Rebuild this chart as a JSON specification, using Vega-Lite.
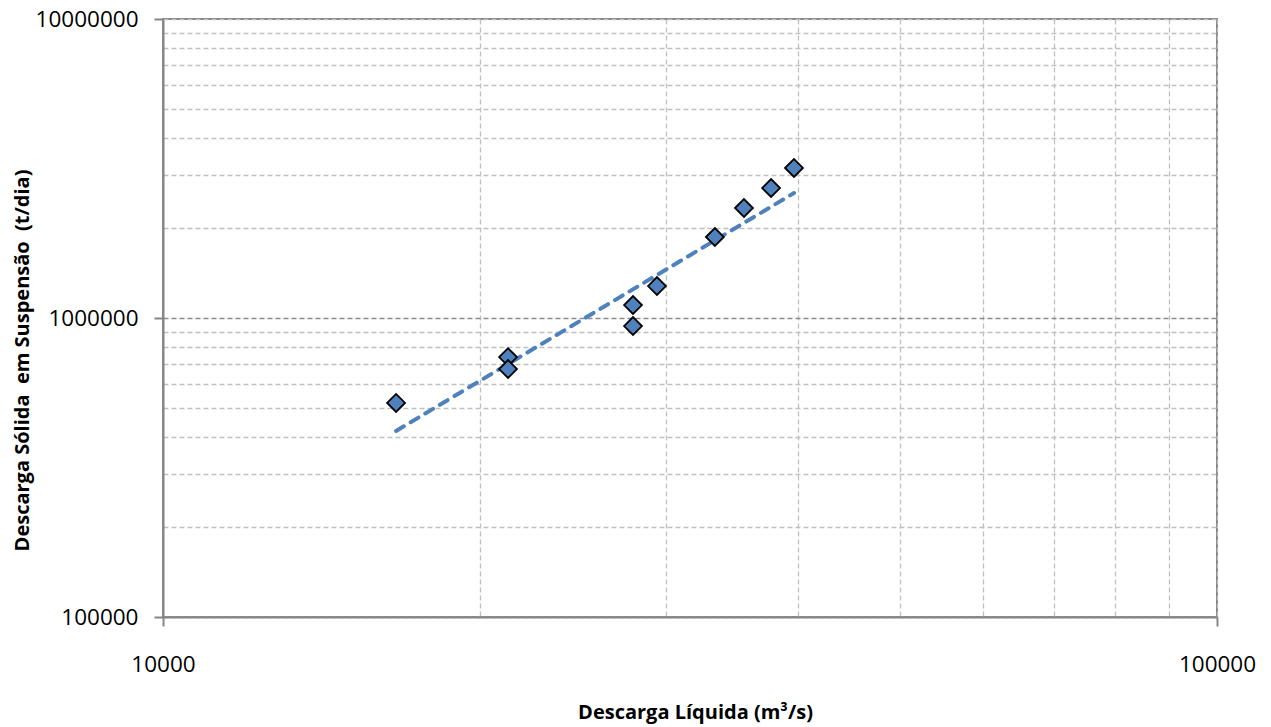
{
  "$schema": "https://vega.github.io/schema/vega-lite/v6.json",
  "width": 1054,
  "height": 598,
  "autosize": {"type": "none"},
  "padding": {"left": 163, "top": 19, "right": 54, "bottom": 110},
  "background": "white",
  "config": {
    "view": {"stroke": "#868686", "strokeWidth": 2},
    "axis": {
      "labelFont": "Open Sans",
      "labelFontSize": 22.5,
      "labelColor": "#000000",
      "titleFont": "Open Sans",
      "titleFontSize": 20,
      "titleFontWeight": "bold",
      "titleColor": "#000000",
      "domainColor": "#868686",
      "domainWidth": 2,
      "tickColor": "#868686",
      "tickWidth": 2
    }
  },
  "datasets": {
    "obs": [
      {"q": 16640, "qs": 520000},
      {"q": 21250, "qs": 740000},
      {"q": 21250, "qs": 675000},
      {"q": 27920, "qs": 940000},
      {"q": 27920, "qs": 1105000},
      {"q": 29420, "qs": 1279000},
      {"q": 33390, "qs": 1866000},
      {"q": 35580, "qs": 2333000},
      {"q": 37750, "qs": 2720000},
      {"q": 39690, "qs": 3175000}
    ],
    "trend": [
      {"q": 16640, "qs": 419000},
      {"q": 39690, "qs": 2618000}
    ]
  },
  "encoding": {
    "x": {
      "field": "q",
      "type": "quantitative",
      "scale": {"type": "log", "domain": [10000, 100000], "nice": false},
      "axis": {
        "title": "Descarga Líquida (m³/s)",
        "titleY": 95,
        "titleX": 532,
        "titleBaseline": "middle",
        "values": [10000, 20000, 30000, 40000, 50000, 60000, 70000, 80000, 90000, 100000],
        "format": "d",
        "labelExpr": "datum.value == 10000 || datum.value == 100000 ? datum.label : ''",
        "labelPadding": 27,
        "labelBaseline": "top",
        "labelFlush": false,
        "labelOverlap": false,
        "grid": true,
        "gridColor": "#BFBFBF",
        "gridDash": [5, 3],
        "gridWidth": 1.3,
        "tickSize": {"condition": {"test": "datum.value == 10000 || datum.value == 100000", "value": 9}, "value": 0}
      }
    },
    "y": {
      "field": "qs",
      "type": "quantitative",
      "scale": {"type": "log", "domain": [100000, 10000000], "nice": false},
      "axis": {
        "title": "Descarga Sólida\u00a0 em Suspensão\u00a0 (t/dia)",
        "titleX": -141,
        "titleY": 341,
        "titleBaseline": "middle",
        "values": [100000, 200000, 300000, 400000, 500000, 600000, 700000, 800000, 900000, 1000000, 2000000, 3000000, 4000000, 5000000, 6000000, 7000000, 8000000, 9000000, 10000000],
        "format": "d",
        "labelExpr": "datum.value == 100000 || datum.value == 1000000 || datum.value == 10000000 ? datum.label : ''",
        "labelPadding": 16,
        "labelFlush": false,
        "labelOverlap": false,
        "labelBaseline": "middle",
        "grid": true,
        "gridColor": {"condition": {"test": "datum.value == 1000000", "value": "#8C8C8C"}, "value": "#BFBFBF"},
        "gridDash": [5, 3],
        "gridWidth": 1.3,
        "tickSize": {"condition": {"test": "datum.value == 100000 || datum.value == 1000000 || datum.value == 10000000", "value": 9}, "value": 0}
      }
    }
  },
  "layer": [
    {
      "data": {"name": "trend"},
      "mark": {"type": "line", "color": "#4F81BD", "strokeWidth": 4, "strokeDash": [9, 8], "strokeCap": "round"}
    },
    {
      "data": {"name": "obs"},
      "mark": {"type": "point", "shape": "diamond", "filled": true, "fill": "#4F81BD", "stroke": "#000000", "strokeWidth": 1.8, "size": 320, "opacity": 1}
    }
  ]
}
